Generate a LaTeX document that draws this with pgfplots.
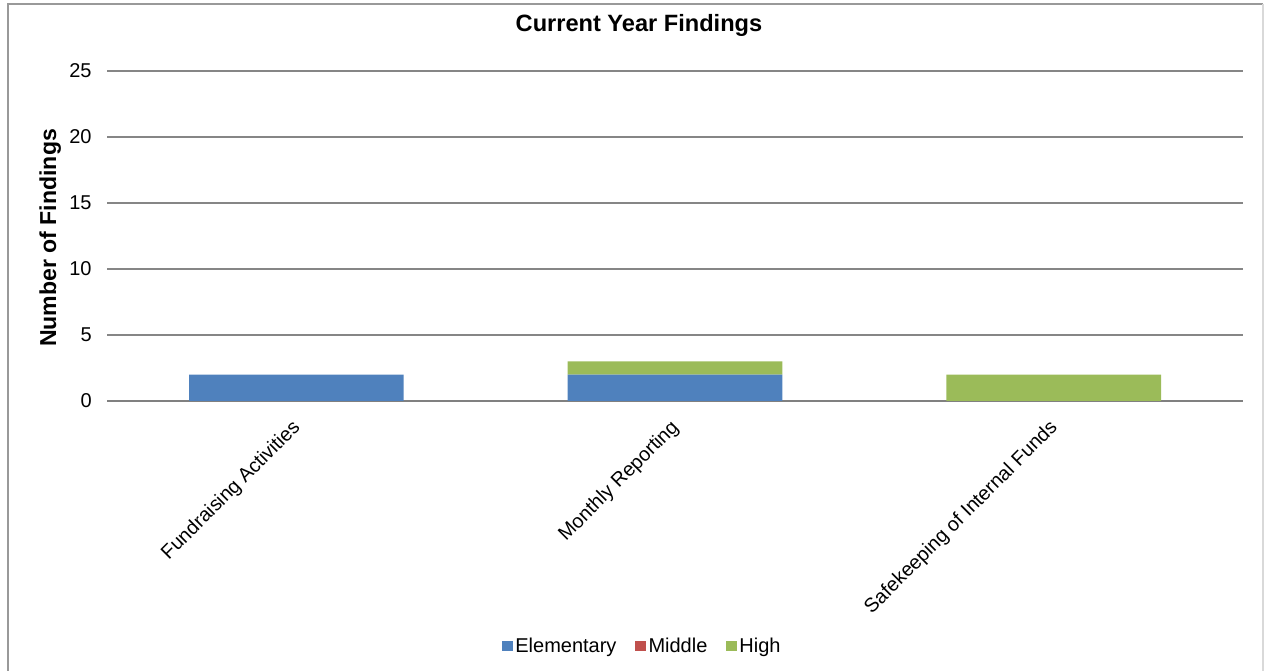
\documentclass[border=0pt]{standalone}
\usepackage{pgfplots}
\pgfplotsset{compat=1.18}
\usepackage{fontspec}
\setmainfont{Liberation Sans}
\definecolor{cBlue}{HTML}{4F81BD}
\definecolor{cRed}{HTML}{C0504D}
\definecolor{cGreen}{HTML}{9BBB59}
\definecolor{cGrid}{HTML}{868686}
\begin{document}
\begin{tikzpicture}
\useasboundingbox (0,0) rectangle (948.75pt,503.25pt);
\draw[color=gray!80, line width=1pt] (6pt,-2pt) -- (6pt,500.25pt) -- (947.25pt,500.25pt);
\draw[color=gray!30, line width=0.8pt] (947.25pt,500.25pt) -- (947.25pt,-2pt);
\begin{axis}[
  at={(80.25pt,202.5pt)}, anchor=south west,
  scale only axis, width=852pt, height=247.5pt,
  ybar stacked, bar width=161pt,
  xmin=-0.5, xmax=2.5, ymin=0, ymax=25,
  ytick={0,5,...,25},
  xtick={0,1,2},
  xticklabels={Fundraising Activities, Monthly Reporting, Safekeeping of Internal Funds},
  xticklabel style={rotate=45, anchor=north east, font=\fontsize{14.8}{16}\selectfont, inner sep=1pt, yshift=-5pt, xshift=-11pt},
  yticklabel style={font=\fontsize{15}{17}\selectfont, xshift=-8pt},
  /pgf/number format/assume math mode=true,
  major tick length=0pt,
  axis x line*=bottom, axis y line*=left,
  y axis line style={draw=none},
  x axis line style={draw=none},
  ymajorgrids, grid style={cGrid, line width=0.8pt},
  title={\bfseries Current Year Findings},
  title style={font=\fontsize{17.7}{20}\selectfont, at={(0.4683,1.115)}, anchor=center},
  ylabel={\bfseries Number of Findings},
  ylabel style={font=\fontsize{17.3}{19}\selectfont, at={(rel axis cs:-0.05,0.494)}, anchor=center},
  legend style={at={(0.4715,-0.742)}, anchor=center, draw=none, legend columns=-1,
    font=\fontsize{15}{17}\selectfont,
    /tikz/every even column/.append style={column sep=12pt}},
  legend image code/.code={\fill[#1] (-2.5pt,-3.8pt) rectangle (5.5pt,3.7pt);},
  clip=false,
]
\addplot[fill=cBlue, draw=none] coordinates {(0,2) (1,2) (2,0)};
\addplot[fill=cRed, draw=none] coordinates {(0,0) (1,0) (2,0)};
\addplot[fill=cGreen, draw=none] coordinates {(0,0) (1,1) (2,2)};
\legend{Elementary, Middle, High}
\draw[color=gray, line width=1.2pt] (rel axis cs:0,0) -- (rel axis cs:1,0);
\end{axis}
\end{tikzpicture}
\end{document}
